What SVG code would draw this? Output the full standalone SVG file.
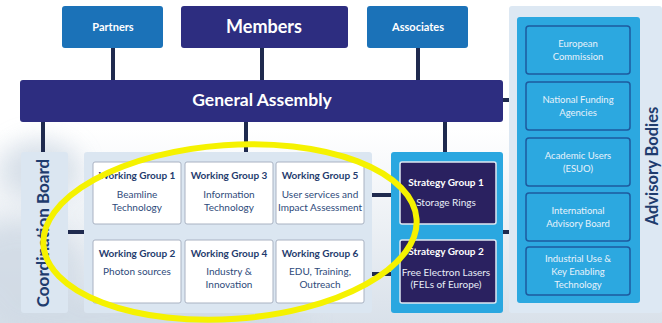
<svg xmlns="http://www.w3.org/2000/svg" width="662" height="323" viewBox="0 0 662 323">
<defs>
<linearGradient id="bg" x1="0" y1="0" x2="0" y2="1">
<stop offset="0" stop-color="#ffffff"/>
<stop offset="0.4" stop-color="#ffffff"/>
<stop offset="1" stop-color="#d9e1ea"/>
</linearGradient>
<filter id="blur" x="-50%" y="-50%" width="200%" height="200%"><feGaussianBlur stdDeviation="12"/></filter>
<style>
.lbl{font-family:Lato,"Open Sans","DejaVu Sans",sans-serif}
.top{fill:#ffffff;font-weight:bold;text-anchor:middle}
.conn{stroke:#1f2a4e;stroke-width:4;fill:none}
.panel{fill:#dbe6f1}
.wg{fill:#ffffff;stroke:#a9b2c2;stroke-width:1}
.wgt{fill:#1f3c6e;font-weight:bold;font-size:10px;text-anchor:middle}
.wgb{fill:#2e4a7a;font-size:10px;text-anchor:middle}
.sg{fill:#2a2160;stroke:#dfe7f1;stroke-width:1.5}
.sgt{fill:#ffffff;font-weight:bold;font-size:10px;text-anchor:middle}
.sgb{fill:#e8eef8;font-size:10px;text-anchor:middle}
.ab{fill:#2ca8e0;stroke:#1d5a9e;stroke-width:1.5}
.abt{fill:#e8f2fb;font-size:9.5px;text-anchor:middle}
.vt{fill:#1f3c6e;font-weight:bold;font-size:17px;text-anchor:middle}
</style>
</defs>
<rect width="662" height="323" fill="url(#bg)"/>
<g filter="url(#blur)" fill="#cfd9e4" opacity="0.8">
<ellipse cx="20" cy="270" rx="60" ry="50"/>
<ellipse cx="150" cy="320" rx="160" ry="25"/>
<ellipse cx="40" cy="170" rx="40" ry="30"/>
</g>

<g id="connectors">
<line class="conn" x1="113" y1="48" x2="113" y2="80"/>
<line class="conn" x1="262" y1="48" x2="262" y2="80"/>
<line class="conn" x1="418" y1="48" x2="418" y2="80"/>
<line class="conn" x1="43" y1="122" x2="43" y2="152"/>
<line class="conn" x1="246" y1="122" x2="246" y2="152"/>
<line class="conn" x1="445" y1="122" x2="445" y2="152"/>
<line class="conn" x1="503" y1="100" x2="510" y2="100"/>
<line class="conn" x1="68" y1="232" x2="84" y2="232"/>
<line class="conn" x1="372" y1="195" x2="392" y2="195"/>
<line class="conn" x1="372" y1="274" x2="392" y2="274"/>
<line class="conn" x1="503" y1="232" x2="510" y2="232"/>
</g>

<g id="partners">
<rect x="62" y="6" width="101" height="42" rx="3" fill="#1b72b8"/>
<text class="lbl top" x="113" y="31" font-size="11">Partners</text>
</g>
<g id="members">
<rect x="181" y="6" width="167" height="42" rx="3" fill="#2d2d80"/>
<text class="lbl top" x="264" y="33" font-size="18">Members</text>
</g>
<g id="associates">
<rect x="367" y="6" width="101" height="42" rx="3" fill="#1b72b8"/>
<text class="lbl top" x="418" y="31" font-size="11">Associates</text>
</g>
<g id="general-assembly">
<rect x="20" y="80" width="483" height="42" rx="3" fill="#2d2d80"/>
<text class="lbl top" x="262" y="106" font-size="17.5">General Assembly</text>
</g>

<g id="coordination-board">
<rect class="panel" x="21" y="152" width="47" height="161" rx="3"/>
<text class="lbl vt" transform="translate(49,233) rotate(-90)">Coordination Board</text>
</g>

<g id="working-groups">
<rect class="panel" x="84" y="152" width="288" height="161" rx="3"/>
</g>
<g id="wg1">
<rect class="wg" x="93" y="162" width="88" height="62" rx="2"/>
<text class="lbl wgt" x="137" y="179">Working Group 1</text>
<text class="lbl wgb" x="137" y="198">Beamline</text>
<text class="lbl wgb" x="137" y="211">Technology</text>
</g>
<g id="wg3">
<rect class="wg" x="185" y="162" width="88" height="62" rx="2"/>
<text class="lbl wgt" x="229" y="179">Working Group 3</text>
<text class="lbl wgb" x="229" y="198">Information</text>
<text class="lbl wgb" x="229" y="211">Technology</text>
</g>
<g id="wg5">
<rect class="wg" x="276" y="162" width="88" height="62" rx="2"/>
<text class="lbl wgt" x="320" y="179">Working Group 5</text>
<text class="lbl wgb" x="320" y="198">User services and</text>
<text class="lbl wgb" x="320" y="211">Impact Assessment</text>
</g>
<g id="wg2">
<rect class="wg" x="93" y="240" width="88" height="63" rx="2"/>
<text class="lbl wgt" x="137" y="257">Working Group 2</text>
<text class="lbl wgb" x="137" y="275">Photon sources</text>
</g>
<g id="wg4">
<rect class="wg" x="185" y="240" width="88" height="63" rx="2"/>
<text class="lbl wgt" x="229" y="257">Working Group 4</text>
<text class="lbl wgb" x="229" y="275">Industry &amp;</text>
<text class="lbl wgb" x="229" y="288">Innovation</text>
</g>
<g id="wg6">
<rect class="wg" x="276" y="240" width="88" height="63" rx="2"/>
<text class="lbl wgt" x="320" y="257">Working Group 6</text>
<text class="lbl wgb" x="320" y="275">EDU, Training,</text>
<text class="lbl wgb" x="320" y="288">Outreach</text>
</g>

<g id="strategy-groups">
<rect x="391" y="152" width="112" height="161" rx="3" fill="#2aa7e0"/>
</g>
<g id="sg1">
<rect class="sg" x="400" y="162" width="96" height="62" rx="2"/>
<text class="lbl sgt" x="446" y="186">Strategy Group 1</text>
<text class="lbl sgb" x="446" y="206">Storage Rings</text>
</g>
<g id="sg2">
<rect class="sg" x="400" y="240" width="96" height="63" rx="2"/>
<text class="lbl sgt" x="446" y="255">Strategy Group 2</text>
<text class="lbl sgb" x="446" y="276">Free Electron Lasers</text>
<text class="lbl sgb" x="446" y="288">(FELs of Europe)</text>
</g>

<g id="advisory-bodies">
<rect x="509" y="6" width="153" height="307" rx="3" fill="#dde8f3"/>
<rect x="517" y="17" width="123" height="286" rx="3" fill="#2ca8e0"/>
<text class="lbl vt" transform="translate(658,166) rotate(-90)" style="font-size:16.5px">Advisory Bodies</text>
</g>
<g id="european-commission">
<rect class="ab" x="526" y="26" width="104" height="48" rx="3"/>
<text class="lbl abt" x="578" y="47">European</text>
<text class="lbl abt" x="578" y="60">Commission</text>
</g>
<g id="national-funding">
<rect class="ab" x="526" y="82" width="104" height="48" rx="3"/>
<text class="lbl abt" x="578" y="103">National Funding</text>
<text class="lbl abt" x="578" y="116">Agencies</text>
</g>
<g id="academic-users">
<rect class="ab" x="526" y="138" width="104" height="48" rx="3"/>
<text class="lbl abt" x="578" y="159">Academic Users</text>
<text class="lbl abt" x="578" y="172">(ESUO)</text>
</g>
<g id="international-advisory">
<rect class="ab" x="526" y="193" width="104" height="48" rx="3"/>
<text class="lbl abt" x="578" y="214">International</text>
<text class="lbl abt" x="578" y="227">Advisory Board</text>
</g>
<g id="industrial-use">
<rect class="ab" x="526" y="247" width="104" height="48" rx="3"/>
<text class="lbl abt" x="578" y="262">Industrial Use &amp;</text>
<text class="lbl abt" x="578" y="275">Key Enabling</text>
<text class="lbl abt" x="578" y="288">Technology</text>
</g>

<ellipse cx="230" cy="232" rx="187" ry="87" transform="rotate(-4 230 232)" fill="none" stroke="#f5f200" stroke-width="6"/>
</svg>
